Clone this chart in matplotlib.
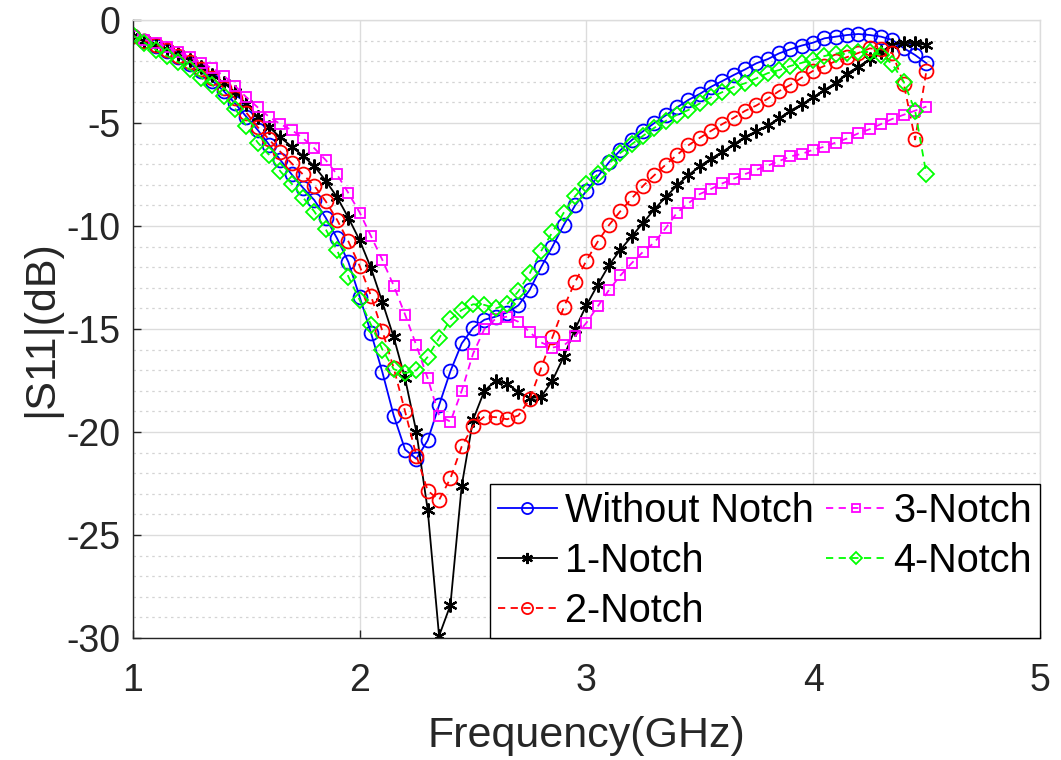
import numpy as np
import matplotlib
matplotlib.use("Agg")
import matplotlib.pyplot as plt
from matplotlib.ticker import MultipleLocator

plt.rcParams['font.family'] = ['Liberation Sans', 'DejaVu Sans']
plt.rcParams['axes.unicode_minus'] = False

freq = [round(1.0 + 0.05 * i, 2) for i in range(71)]

without_notch = [
    -0.8, -1.0, -1.25, -1.5, -1.8, -2.15, -2.5, -2.95, -3.45, -4.05,
    -4.7, -5.34, -6.05, -6.8, -7.5, -8.15, -8.75, -9.6, -10.6, -11.75,
    -13.45, -15.2, -17.1, -19.2, -20.85, -21.3, -20.4, -18.7, -17.05, -15.7,
    -14.95, -14.55, -14.4, -14.2, -13.85, -13.1, -12.0, -11.0, -9.95, -9.0,
    -8.3, -7.6, -6.9, -6.32, -5.83, -5.4, -5.0, -4.63, -4.24, -3.88,
    -3.59, -3.24, -2.96, -2.67, -2.4, -2.1, -1.9, -1.62, -1.42, -1.24,
    -1.1, -0.89, -0.81, -0.73, -0.68, -0.73, -0.81, -0.97, -1.37, -1.7,
    -2.1]

notch1 = [
    -0.8, -1.0, -1.2, -1.4, -1.65, -1.95, -2.3, -2.65, -3.05, -3.5,
    -4.1, -4.7, -5.2, -5.7, -6.15, -6.6, -7.1, -7.8, -8.6, -9.6,
    -10.7, -12.05, -13.7, -15.4, -17.4, -20.0, -23.8, -29.9, -28.4, -22.6,
    -19.4, -18.0, -17.5, -17.65, -18.05, -18.35, -18.3, -17.5, -16.35, -15.0,
    -13.85, -12.85, -11.9, -11.15, -10.5, -9.85, -9.18, -8.6, -8.03, -7.53,
    -7.1, -6.73, -6.4, -6.03, -5.68, -5.4, -5.12, -4.78, -4.4, -4.1,
    -3.75, -3.4, -3.05, -2.6, -2.27, -1.9, -1.54, -1.2, -1.1, -1.13,
    -1.2]

notch2 = [
    -0.8, -1.0, -1.2, -1.45, -1.75, -2.05, -2.4, -2.8, -3.3, -3.8,
    -4.5, -5.2, -5.8, -6.4, -6.96, -7.5, -8.05, -8.8, -9.7, -10.75,
    -11.95, -13.4, -15.1, -16.9, -19.0, -21.15, -22.85, -23.3, -22.25, -20.7,
    -19.7, -19.25, -19.28, -19.38, -19.2, -18.4, -16.9, -15.4, -13.95, -12.72,
    -11.68, -10.76, -9.95, -9.28, -8.66, -8.05, -7.53, -7.02, -6.55, -6.08,
    -5.72, -5.38, -5.05, -4.75, -4.41, -4.15, -3.82, -3.45, -3.15, -2.8,
    -2.47, -2.23, -2.0, -1.8, -1.6, -1.38, -1.42, -1.62, -3.1, -5.8,
    -2.46]

notch3 = [
    -0.8, -0.95, -1.1, -1.3, -1.55, -1.8, -2.07, -2.35, -2.7, -3.2,
    -3.75, -4.24, -4.7, -5.06, -5.34, -5.74, -6.23, -6.8, -7.5, -8.4,
    -9.35, -10.5, -11.65, -12.9, -14.3, -15.8, -17.4, -19.2, -19.5, -18.0,
    -16.2, -15.0, -14.5, -14.4, -14.65, -15.15, -15.65, -15.9, -15.8, -15.35,
    -14.7, -13.9, -13.1, -12.4, -11.8, -11.25, -10.8, -10.1, -9.35, -8.9,
    -8.45, -8.2, -7.93, -7.7, -7.48, -7.27, -7.07, -6.85, -6.62, -6.5,
    -6.3, -6.15, -5.95, -5.75, -5.5, -5.3, -5.05, -4.8, -4.6, -4.4,
    -4.2]

notch4 = [
    -0.75, -1.1, -1.45, -1.75, -2.05, -2.4, -2.8, -3.15, -3.7, -4.3,
    -5.15, -5.95, -6.55, -7.35, -7.95, -8.62, -9.3, -10.16, -11.17, -12.46,
    -13.6, -14.8, -16.0, -16.95, -17.15, -17.0, -16.35, -15.45, -14.53, -14.08,
    -13.8, -13.83, -14.0, -13.8, -13.17, -12.3, -11.22, -10.3, -9.35, -8.55,
    -7.95, -7.5, -6.96, -6.45, -6.03, -5.62, -5.23, -4.9, -4.6, -4.37,
    -4.05, -3.75, -3.5, -3.25, -3.07, -2.83, -2.58, -2.43, -2.23, -2.08,
    -1.93, -1.75, -1.63, -1.58, -1.54, -1.56, -1.7, -2.15, -3.0, -4.4,
    -7.5]

labels = ['Without Notch', '1-Notch', '2-Notch', '3-Notch', '4-Notch']
x_ticks = [1, 2, 3, 4, 5]
y_ticks = [-30, -25, -20, -15, -10, -5, 0]

fig = plt.figure(figsize=(10.61, 7.60), dpi=100)
ax = fig.add_axes([0.1254, 0.1605, 0.8546, 0.8132])

lw = 1.3
asterisk = (6, 2, 0)
ax.plot(freq, without_notch, '-', color='#0000ff', marker='o', ms=10,
        mfc='none', mew=1.3, lw=lw, label=labels[0])
ax.plot(freq, notch1, '-', color='black', marker=asterisk, ms=10,
        mfc='black', mew=1.6, lw=lw, label=labels[1])
ax.plot(freq, notch2, '--', color='#ff0000', marker='o', ms=10,
        mfc='none', mew=1.3, lw=lw, label=labels[2], dashes=(4, 3))
ax.plot(freq, notch3, '--', color='#ff00ff', marker='s', ms=7,
        mfc='none', mew=1.3, lw=lw, label=labels[3], dashes=(4, 3))
ax.plot(freq, notch4, '--', color='#00ff00', marker='D', ms=8,
        mfc='none', mew=1.3, lw=lw, label=labels[4], dashes=(4, 3))

ax.set_xlim(1, 5)
ax.set_ylim(-30, 0)
ax.set_xticks(x_ticks)
ax.set_yticks(y_ticks)
ax.yaxis.set_minor_locator(MultipleLocator(1))
ax.grid(True, which='major', color='#dcdcdc', lw=1.0, ls='-')
ax.grid(True, which='minor', axis='y', color='#d4d4d4', lw=0.9, ls=(0, (2, 3)))
ax.set_axisbelow(True)
ax.tick_params(axis='both', which='major', direction='in', labelsize=27,
               length=6, width=1, colors='#262626')
ax.tick_params(axis='x', which='major', pad=18)
ax.tick_params(axis='y', which='major', pad=9)
ax.tick_params(axis='both', which='minor', length=0)
for s in ['left', 'bottom']:
    ax.spines[s].set_color('#262626')
    ax.spines[s].set_linewidth(1.0)
for s in ['top', 'right']:
    ax.spines[s].set_color('#dcdcdc')
    ax.spines[s].set_linewidth(1.0)

ax.set_xlabel('Frequency(GHz)', fontsize=31, color='#262626', labelpad=12)
ax.set_ylabel('|S11|(dB)', fontsize=31, color='#262626', labelpad=4)

leg = ax.legend(ncol=2, loc='lower right', bbox_to_anchor=(1.0, 0.0),
                borderaxespad=0.0, fontsize=28.5, fancybox=False, frameon=True,
                edgecolor='black', framealpha=1, handlelength=1.5,
                columnspacing=0.3, handletextpad=0.2, labelspacing=0.3,
                borderpad=0.2, markerscale=0.8)
leg.get_frame().set_linewidth(1.0)

fig.savefig('out.png', dpi=100)
